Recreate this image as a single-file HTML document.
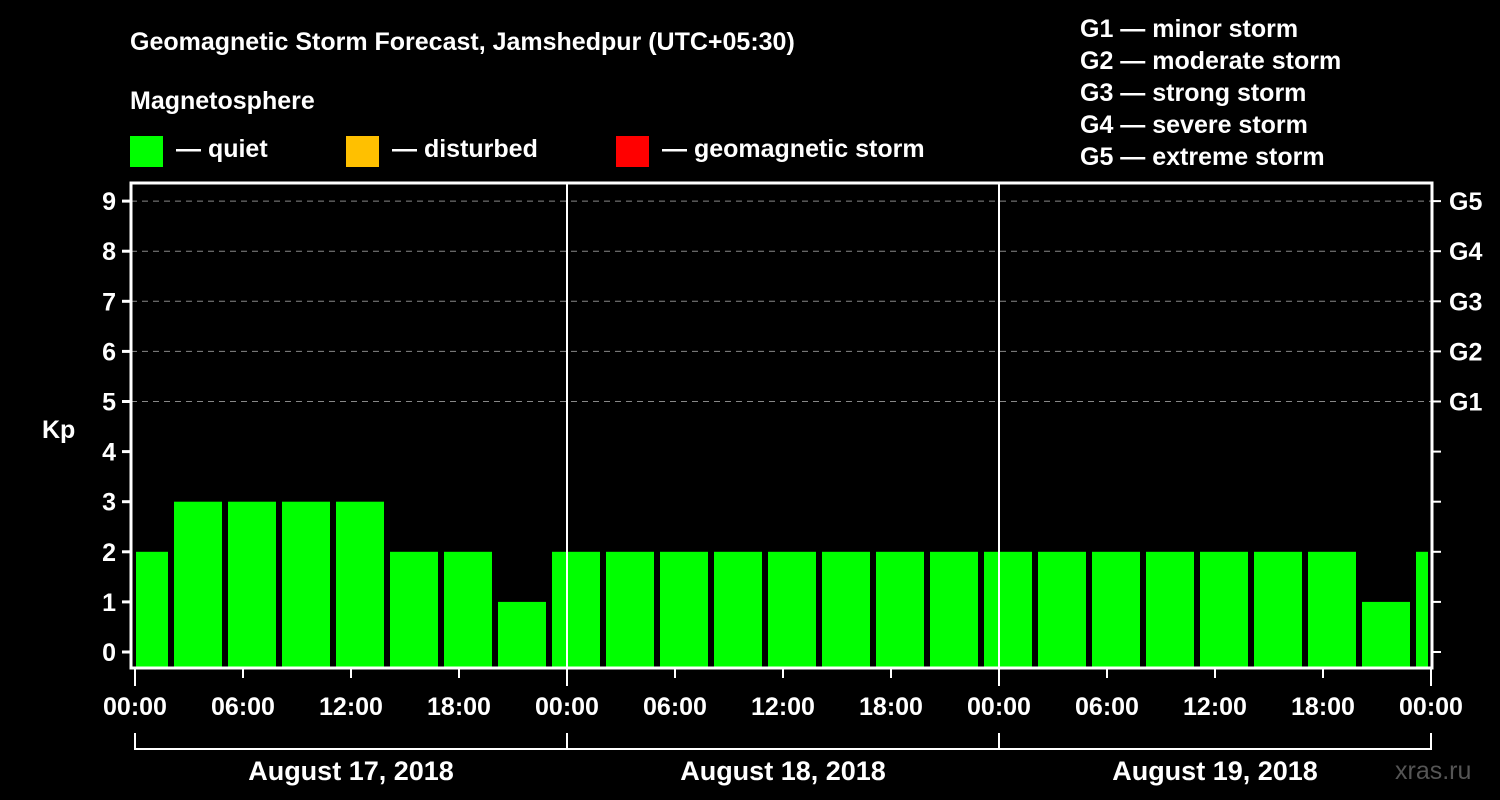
<!DOCTYPE html>
<html><head><meta charset="utf-8"><style>
body{margin:0;background:#000;width:1500px;height:800px;overflow:hidden}
svg{display:block}
text{font-family:"Liberation Sans",Arial,sans-serif;font-weight:bold;fill:#fff}
</style></head><body>
<svg id="c" width="1500" height="800">
<text x="130" y="50" font-size="25">Geomagnetic Storm Forecast, Jamshedpur (UTC+05:30)</text>
<text x="130" y="109" font-size="25">Magnetosphere</text>
<rect x="130" y="136" width="33" height="31" fill="#00ff00"/>
<text x="176" y="157" font-size="25">— quiet</text>
<rect x="346" y="136" width="33" height="31" fill="#ffc000"/>
<text x="392" y="157" font-size="25">— disturbed</text>
<rect x="616" y="136" width="33" height="31" fill="#ff0000"/>
<text x="662" y="157" font-size="25">— geomagnetic storm</text>
<g font-size="25">
<text x="1080" y="37">G1 — minor storm</text>
<text x="1080" y="69">G2 — moderate storm</text>
<text x="1080" y="101">G3 — strong storm</text>
<text x="1080" y="133">G4 — severe storm</text>
<text x="1080" y="165">G5 — extreme storm</text>
</g>
<text x="42" y="438" font-size="25">Kp</text>
<text x="1395" y="779" font-size="25" fill="#555" style="fill:#555;font-weight:normal">xras.ru</text>
<g id="grid"></g><g id="bars"></g><g id="axes"></g>
</svg>
<script>
const kpValues=[2,3,3,3,3,2,2,1,2,2,2,2,2,2,2,2,2,2,2,2,2,2,2,1,2];
const yTicks=[0,1,2,3,4,5,6,7,8,9];
const gLabels=["G1","G2","G3","G4","G5"];
const gLevels=[5,6,7,8,9];
const dayLabels=["August 17, 2018","August 18, 2018","August 19, 2018"];
const hourLabels=["00:00","06:00","12:00","18:00"];
const NS="http://www.w3.org/2000/svg";
const X0=135,PXH=18,L=131,R=1432,T=183,B=668;
const x=h=>X0+h*PXH;
const y=v=>652-v*50.1;
function mk(p,t,a){const e=document.createElementNS(NS,t);for(const k in a)e.setAttribute(k,a[k]);p.appendChild(e);return e;}
const grid=document.getElementById('grid'),bars=document.getElementById('bars'),axes=document.getElementById('axes');
gLevels.forEach(v=>{const l=mk(grid,'line',{x1:L,x2:R,y1:y(v),y2:y(v),stroke:'#888','stroke-dasharray':'6,5','stroke-width':1});

});
kpValues.forEach((v,i)=>{let s=x(-1+3*i)+3,e=x(-1+3*i)+51;s=Math.max(s,L+5);e=Math.min(e,R-4);
const r=mk(bars,'rect',{x:s,y:y(v),width:e-s,height:B-y(v),fill:'#00ff00'});

});
[1,2].forEach(d=>{const l=mk(axes,'line',{x1:x(24*d),x2:x(24*d),y1:T,y2:B,stroke:'#fff','stroke-width':2});

});
const fr=mk(axes,'rect',{x:L,y:T,width:R-L,height:B-T,fill:'none',stroke:'#fff','stroke-width':3});


yTicks.forEach(v=>{mk(axes,'line',{x1:L-9,x2:L,y1:y(v),y2:y(v),stroke:'#fff','stroke-width':3});
mk(axes,'line',{x1:R,x2:R+9,y1:y(v),y2:y(v),stroke:'#fff','stroke-width':2});
const t=mk(axes,'text',{x:116,y:y(v)+9,'font-size':25,'text-anchor':'end'});t.textContent=v;

});
gLabels.forEach((g,i)=>{const t=mk(axes,'text',{x:1449,y:y(gLevels[i])+9,'font-size':25});t.textContent=g;

});
for(let h=0;h<=72;h+=6){const maj=h%24===0;
mk(axes,'line',{x1:x(h),x2:x(h),y1:B,y2:maj?686:678,stroke:'#fff','stroke-width':2});
const t=mk(axes,'text',{x:x(h),y:715,'font-size':25,'text-anchor':'middle'});t.textContent=hourLabels[(h/6)%4];

}
mk(axes,'path',{d:`M${x(0)},733V749H${x(72)}V733M${x(24)},733V749M${x(48)},733V749`,stroke:'#fff','stroke-width':2,fill:'none'});
dayLabels.forEach((d,i)=>{const t=mk(axes,'text',{x:x(24*i+12),y:780,'font-size':27,'text-anchor':'middle'});t.textContent=d;

});
</script>
</body></html>
